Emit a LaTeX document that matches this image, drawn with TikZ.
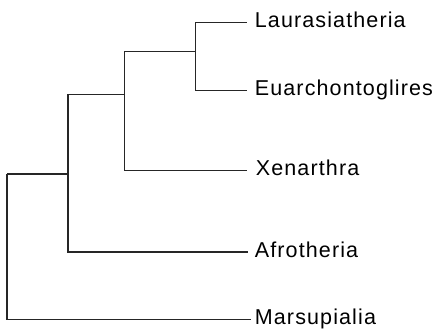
\documentclass[tikz,border=0pt]{standalone}
\usepackage{fontspec}
\newfontfamily\taxonfont[LetterSpace=5.2]{Liberation Sans}
\tikzset{
branch/.style={draw=black!85, line width=0.6pt},
taxon/.style={anchor=base west, inner sep=0pt, font=\taxonfont\fontsize{10.75}{12}\selectfont}
}
\begin{document}
\begin{tikzpicture}[x=0.5pt, y=-0.5pt]
\useasboundingbox (0,0) rectangle (437,328);
% internal junctions
\coordinate (root) at (7,174);
\coordinate (c1) at (68,174);
\coordinate (c2) at (124.3,94.7);
\coordinate (c3) at (195.3,51.3);
% branch tips
\coordinate (laur) at (247.3,22.7);
\coordinate (euar) at (247.3,90.7);
\coordinate (xena) at (247.3,170.7);
\coordinate (afro) at (248.3,252);
\coordinate (mars) at (250.7,319.7);
% taxa
\node[taxon] (laurlabel) at (254.5,27.8) {Laurasiatheria};
\node[taxon] (euarlabel) at (254.5,95.8) {Euarchontoglires};
\node[taxon] (xenalabel) at (255.5,175.8) {Xenarthra};
\node[taxon] (afrolabel) at (254.5,257.1) {Afrotheria};
\node[taxon] (marslabel) at (254.5,324.4) {Marsupialia};
\foreach \a/\b in {root/c1, root/mars, c1/c2, c1/afro, c2/c3, c2/xena, c3/laur, c3/euar}
\draw[branch] (\a) |- (\b);
\end{tikzpicture}
\end{document}
